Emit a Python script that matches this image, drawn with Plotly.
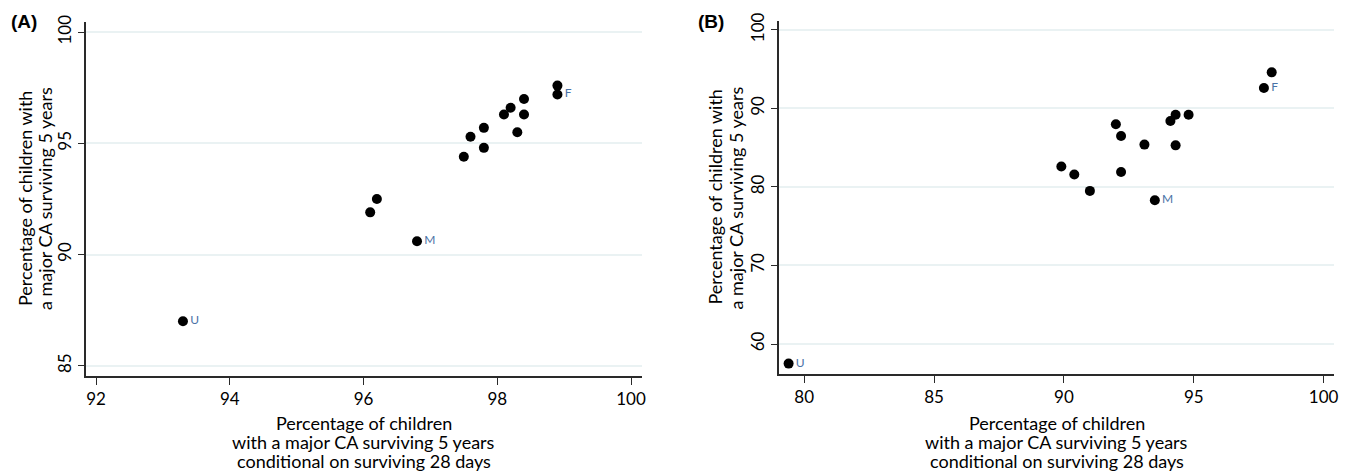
import plotly.graph_objects as go

# Panel A data
a_x = [93.3, 96.8, 96.1, 96.2, 97.5, 97.6, 97.8, 97.8, 98.1, 98.2, 98.3, 98.4, 98.4, 98.9, 98.9]
a_y = [87.0, 90.6, 91.9, 92.5, 94.4, 95.3, 95.7, 94.8, 96.3, 96.6, 95.5, 97.0, 96.3, 97.6, 97.2]
a_lab = ["U", "M", "", "", "", "", "", "", "", "", "", "", "", "", "F"]

# Panel B data
b_x = [79.4, 89.9, 90.4, 91.0, 92.0, 92.2, 92.2, 93.1, 93.5, 94.1, 94.3, 94.3, 94.8, 97.7, 98.0]
b_y = [57.5, 82.6, 81.6, 79.5, 88.0, 86.5, 81.9, 85.4, 78.3, 88.4, 89.2, 85.3, 89.2, 92.6, 94.6]
b_lab = ["U", "", "", "", "", "", "", "", "M", "", "", "", "", "F", ""]

a_xticks = [92, 94, 96, 98, 100]
a_yticks = [85, 90, 95, 100]
b_xticks = [80, 85, 90, 95, 100]
b_yticks = [60, 70, 80, 90, 100]

xtitle_lines = ["Percentage of children",
                "with a major CA surviving 5 years",
                "conditional on surviving 28 days"]
ytitle_lines = ["Percentage of children with",
                "a major CA surviving 5 years"]
panel_labels = ["(A)", "(B)"]

FONT = "Lato, 'Open Sans', sans-serif"
LABC = "#4a72a6"
OFF = 8  # page body margin offset
W, H = 1351 - OFF, 471 - OFF

fig = go.Figure()
fig.add_trace(go.Scatter(x=a_x, y=a_y, mode="markers+text", text=a_lab,
                         textposition="middle right",
                         textfont=dict(color=LABC, size=12, family=FONT),
                         marker=dict(color="black", size=10),
                         xaxis="x", yaxis="y", showlegend=False, cliponaxis=False))
fig.add_trace(go.Scatter(x=b_x, y=b_y, mode="markers+text", text=b_lab,
                         textposition="middle right",
                         textfont=dict(color=LABC, size=12, family=FONT),
                         marker=dict(color="black", size=10),
                         xaxis="x2", yaxis="y2", showlegend=False, cliponaxis=False))


def px(x):
    return (x - OFF) / W


def py(y):
    return 1 - (y - OFF) / H


def xd(a, b):
    return [px(a), px(b)]


def yd(top, bot):
    return [py(bot), py(top)]


common_x = dict(showgrid=False, zeroline=False, showline=True, linecolor="#2a2a2a", linewidth=1.5,
                ticks="outside", ticklen=7, tickcolor="#2a2a2a", tickwidth=1, automargin=False,
                tickfont=dict(size=17, family=FONT, color="black"))
common_y = dict(showgrid=True, gridcolor="#eaf2f3", gridwidth=1.5, zeroline=False, showline=True,
                linecolor="#2a2a2a", linewidth=1.5, automargin=False,
                ticks="outside", ticklen=6, tickcolor="#2a2a2a", tickwidth=1, tickangle=-90,
                tickfont=dict(size=17, family=FONT, color="black"))

annotations = []
# x titles
for cx in [(86 + 641.7) / 2, (779 + 1334.3) / 2]:
    for line, cy in zip(xtitle_lines, [422.5, 442, 461]):
        annotations.append(dict(text=line, x=px(cx), y=py(cy), xref="paper", yref="paper",
                                xanchor="center", yanchor="middle", showarrow=False,
                                font=dict(size=18, family=FONT, color="black")))
# y titles
for (x1, x2, cy) in [(25, 45, 199), (714, 735, 197.5)]:
    for line, cx in zip(ytitle_lines, [x1, x2]):
        annotations.append(dict(text=line, x=px(cx), y=py(cy), xref="paper", yref="paper",
                                xanchor="center", yanchor="middle", showarrow=False, textangle=-90,
                                font=dict(size=18, family=FONT, color="black")))
# panel letters
for lab, lx in zip(panel_labels, [9, 696]):
    annotations.append(dict(text="<b>" + lab + "</b>", x=px(lx), y=py(21), xref="paper", yref="paper",
                            xanchor="left", yanchor="middle", showarrow=False,
                            font=dict(size=19, family="Liberation Sans, Arial", color="black")))

fig.update_layout(
    width=W, height=H, margin=dict(l=0, r=0, t=0, b=0),
    paper_bgcolor="white", plot_bgcolor="white",
    xaxis=dict(common_x, domain=xd(86, 641.7), range=[91.85, 100.16], tickvals=a_xticks, anchor="y"),
    yaxis=dict(common_y, domain=yd(22, 376), range=[84.54, 100.46], tickvals=a_yticks, anchor="x"),
    xaxis2=dict(common_x, domain=xd(779, 1334.3), range=[79.03, 100.41], tickvals=b_xticks, anchor="y2"),
    yaxis2=dict(common_y, domain=yd(20.7, 374.3), range=[56.14, 101.18], tickvals=b_yticks, anchor="x2"),
    annotations=annotations,
)

fig.write_html("out.html")
